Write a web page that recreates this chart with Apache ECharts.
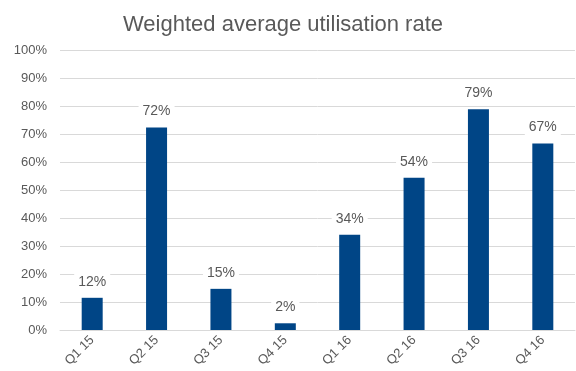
<!DOCTYPE html>
<html><head><meta charset="utf-8">
<script src="https://cdn.jsdelivr.net/npm/echarts@6/dist/echarts.min.js"></script>
<style>html,body{margin:0;padding:0;background:#fff}#c{width:576px;height:371px}</style>
</head><body><div id="c"></div>
<script>
const categories = ['Q1 15','Q2 15','Q3 15','Q4 15','Q1 16','Q2 16','Q3 16','Q4 16'];
const values = [11.5, 72.3, 14.7, 2.4, 34.0, 54.4, 78.8, 66.6];
const chart = echarts.init(document.getElementById('c'));
const font = 'Liberation Sans, Arial, sans-serif';
chart.setOption({
  animation: false,
  title: { text: 'Weighted average utilisation rate', left: 118, top: 9,
    textStyle: { fontFamily: font, fontSize: 22, fontWeight: 'normal', color: '#595959' } },
  grid: { left: 60, right: 1, top: 50, bottom: 41, containLabel: false },
  xAxis: { type: 'category', data: categories,
    axisLine: { lineStyle: { color: '#d9d9d9' } }, axisTick: { show: false },
    axisLabel: { rotate: 45, color: '#595959', fontFamily: font, fontSize: 13, margin: 8, interval: 0 } },
  yAxis: { type: 'value', min: 0, max: 100, interval: 10,
    axisLabel: { formatter: '{value}%', color: '#595959', fontFamily: font, fontSize: 13, margin: 13 },
    splitLine: { lineStyle: { color: '#d9d9d9' } }, axisLine: { show: false }, axisTick: { show: false } },
  series: [{ type: 'bar', data: values, barWidth: 21,
    itemStyle: { color: '#004586' },
    label: { show: true, position: 'top', distance: 7, formatter: p => Math.round(p.value) + '%',
      color: '#595959', fontFamily: font, fontSize: 14, backgroundColor: '#fff', padding: [2, 4] } }]
});
</script></body></html>
